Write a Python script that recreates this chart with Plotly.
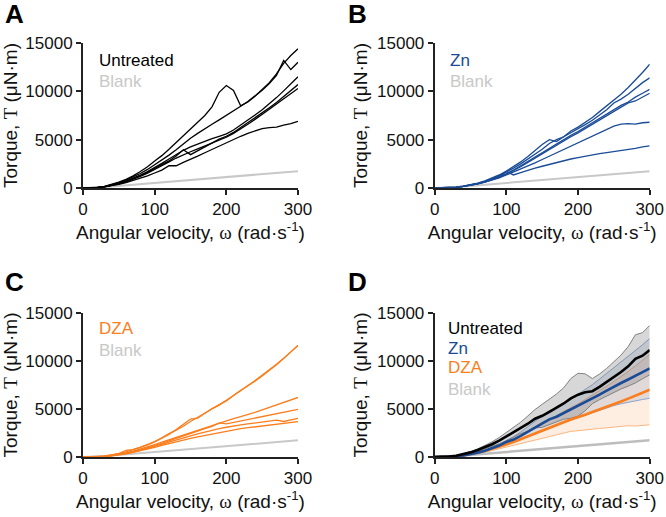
import numpy as np
import plotly.graph_objects as go

# ---------------- data (torque in µN·m vs angular velocity in rad/s) ----------------
OMEGA = [0, 10, 20, 30, 40, 50, 60, 70, 80, 90, 100, 110, 120, 130, 140, 150,
         160, 170, 180, 190, 200, 210, 220, 230, 240, 250, 260, 270, 280, 290, 300]

BLANK = [0, 20, 60, 110, 160, 220, 270, 330, 390, 450, 510, 570, 630, 690, 750, 810,
         870, 930, 990, 1050, 1110, 1170, 1230, 1290, 1350, 1420, 1480, 1540, 1600, 1670, 1740]

UNTREATED_RUNS = [
    [0, 10, 60, 170, 350, 600, 900, 1250, 1700, 2200, 2800, 3350, 4000, 4700, 5450, 6200,
     6850, 7500, 8400, 9900, 10600, 10100, 8500, 8900, 9500, 10200, 10900, 11800, 12900, 13700, 14400],
    [0, 10, 50, 150, 320, 550, 820, 1130, 1500, 1920, 2400, 2900, 3400, 3950, 4550, 5150,
     5650, 6150, 6600, 7050, 7500, 7950, 8450, 8950, 9500, 10100, 10800, 11650, 13200, 12250, 13000],
    [0, 10, 50, 140, 290, 480, 720, 1000, 1330, 1700, 2100, 2550, 3000, 3450, 3900, 4250,
     4550, 4850, 5100, 5350, 5600, 6000, 6500, 7000, 7550, 8100, 8700, 9350, 10050, 10800, 11500],
    [0, 10, 45, 130, 270, 460, 690, 960, 1270, 1620, 2000, 2400, 2800, 3300, 3950, 3450,
     3850, 4300, 4700, 5050, 5350, 5750, 6250, 6750, 7250, 7750, 8300, 8850, 9450, 10100, 10700],
    [0, 10, 40, 120, 250, 420, 640, 900, 1200, 1530, 1900, 2300, 2700, 3100, 3450, 3750,
     4050, 4350, 4650, 4950, 5250, 5650, 6100, 6600, 7100, 7600, 8150, 8700, 9250, 9800, 10300],
    [0, 10, 40, 110, 230, 380, 560, 770, 1000, 1250, 1550, 1850, 2300, 2300, 2650, 2950,
     3300, 3650, 4000, 4350, 4650, 5000, 5350, 5650, 5900, 6150, 6250, 6300, 6500, 6650, 6900],
]

ZN_RUNS = [
    [0, 5, 30, 90, 190, 330, 510, 730, 1000, 1350, 1750, 2200, 2700, 3250, 3900, 4500,
     5000, 4800, 5300, 5900, 6300, 6800, 7300, 7900, 8500, 9100, 9700, 10400, 11150, 11950, 12800],
    [0, 5, 30, 85, 180, 310, 480, 690, 950, 1300, 1650, 2050, 2500, 3000, 3500, 4000,
     4600, 5000, 5300, 5700, 6100, 6550, 7000, 7550, 8100, 8800, 9200, 9700, 10300, 10900, 11400],
    [0, 5, 25, 80, 170, 290, 450, 650, 900, 1200, 1500, 1850, 2300, 2750, 3200, 3700,
     4150, 4600, 5050, 5450, 5850, 6300, 6750, 7200, 7650, 8100, 8550, 8900, 9400, 9800, 10200],
    [0, 5, 25, 75, 160, 280, 430, 620, 850, 1100, 1450, 1800, 2200, 2650, 3100, 3550,
     4000, 4450, 4900, 5300, 5700, 6150, 6600, 7050, 7500, 7950, 8350, 8800, 9000, 9400, 9800],
    [0, 5, 25, 75, 160, 280, 430, 610, 820, 1050, 1350, 1650, 1950, 2250, 2600, 2950,
     3300, 3650, 4000, 4350, 4700, 5050, 5400, 5750, 6100, 6400, 6600, 6650, 6600, 6750, 6800],
    [0, 5, 25, 75, 160, 280, 440, 630, 860, 1150, 1700, 1350, 1600, 1850, 2050, 2250,
     2450, 2650, 2850, 3000, 3150, 3300, 3400, 3550, 3650, 3750, 3850, 4000, 4100, 4250, 4350],
]

DZA_RUNS = [
    [0, 5, 30, 100, 210, 360, 700, 760, 1000, 1280, 1600, 1990, 2450, 2800, 3200, 3700,
     4150, 4550, 5000, 5400, 5900, 6350, 6900, 7450, 7900, 8450, 9000, 9600, 10250, 10950, 11650],
    [0, 5, 30, 95, 200, 350, 530, 750, 990, 1260, 1580, 1950, 2350, 2850, 3400, 3950,
     4050, 4550, 5050, 5450, 5850, 6400, 6950, 7400, 7950, 8500, 9050, 9650, 10300, 11000, 11600],
    [0, 5, 25, 80, 170, 290, 440, 620, 830, 1050, 1300, 1550, 1800, 2050, 2300, 2550,
     2800, 3050, 3300, 3550, 3800, 4000, 4200, 4400, 4650, 4900, 5150, 5400, 5650, 5900, 6200],
    [0, 5, 25, 70, 150, 260, 400, 560, 750, 950, 1180, 1420, 1680, 1950, 2200, 2450,
     2700, 2950, 3200, 3550, 3450, 3600, 3750, 3900, 4050, 4200, 4400, 4550, 4700, 4850, 4960],
    [0, 5, 20, 65, 140, 240, 370, 520, 700, 890, 1100, 1320, 1550, 1780, 2000, 2200,
     2400, 2600, 2800, 2950, 3100, 3250, 3350, 3450, 3550, 3650, 3750, 3850, 3700, 3900, 4030],
    [0, 5, 20, 60, 130, 220, 340, 480, 640, 820, 1000, 1200, 1400, 1600, 1800, 1950,
     2100, 2250, 2400, 2550, 2700, 2850, 2950, 3050, 3150, 3250, 3350, 3450, 3550, 3600, 3680],
]

X_TICKS = [0, 100, 200, 300]
Y_TICKS = [0, 5000, 10000, 15000]

# ---------------- styling ----------------
W, H = 666, 517
FONT = "Liberation Sans, Arial, Helvetica, sans-serif"
SERIF = "Liberation Serif, DejaVu Serif, serif"
BLACK = "#000000"
BLUE = "#1a4b96"
ORANGE = "#fb7d1c"
GREY = "#c8c8c8"


def px(x):
    return x / W


def py(y):
    return 1 - y / H


XA = [px(83), px(298)]
XB = [px(434.7), px(649.7)]
YTOP = [py(188), py(43)]
YBOT = [py(457), py(313)]

fig = go.Figure()


def add_line(ax, y, color, width, **kw):
    fig.add_trace(go.Scatter(x=OMEGA, y=y, mode="lines", xaxis="x" + ax, yaxis="y" + ax,
                             line=dict(color=color, width=width), showlegend=False,
                             hoverinfo="skip", **kw))


# Panels A, B, C
for ax, runs, col in [("", UNTREATED_RUNS, BLACK), ("2", ZN_RUNS, BLUE), ("3", DZA_RUNS, ORANGE)]:
    add_line(ax, BLANK, GREY, 2)
    for r in runs:
        add_line(ax, r, col, 1.3)

# Panel D: mean ± SD
groups = [
    (DZA_RUNS, ORANGE, "#fbb47e", "rgba(251,125,28,0.13)"),
    (ZN_RUNS, BLUE, "#8aa3cf", "rgba(26,75,150,0.13)"),
    (UNTREATED_RUNS, BLACK, "#808080", "rgba(110,110,110,0.28)"),
]
stats = []
for runs, col, bcol, fcol in groups:
    arr = np.array(runs, dtype=float)
    m = arr.mean(axis=0)
    s = arr.std(axis=0, ddof=1)
    stats.append((m, col))
    add_line("4", m - s, bcol, 1)
    add_line("4", m + s, bcol, 1, fill="tonexty", fillcolor=fcol)

add_line("4", BLANK, "#bdbdbd", 2.5)
for m, col in stats:
    add_line("4", m, col, 2.6)

# ---------------- axes ----------------
xtitle = ("Angular velocity, <span style='font-family:" + SERIF + "'>ω</span> "
          "(rad·s<sup>-1</sup>)")
ytitle = "Torque, <span style='font-family:" + SERIF + "'>Τ</span> (μN·m)"

axis_common = dict(showline=True, linecolor="#222222", linewidth=2, ticks="outside",
                   ticklen=5, tickwidth=2, tickcolor="#222222", showgrid=False,
                   zeroline=False, tickfont=dict(family=FONT, size=17, color="#111111"),
                   fixedrange=True, automargin=False)

layout = dict(width=W, height=H, margin=dict(l=0, r=0, t=0, b=0, autoexpand=False),
              paper_bgcolor="white", plot_bgcolor="white", showlegend=False,
              font=dict(family=FONT, color="#111111"))

for i, (xd, yd) in enumerate([(XA, YTOP), (XB, YTOP), (XA, YBOT), (XB, YBOT)]):
    suf = "" if i == 0 else str(i + 1)
    anchor = "y" + suf
    layout["xaxis" + suf] = dict(axis_common, domain=xd, anchor=anchor, range=[0, 300],
                                 tickvals=X_TICKS,
                                 title=dict(text=xtitle, font=dict(family=FONT, size=19), standoff=6))
    layout["yaxis" + suf] = dict(axis_common, domain=yd, anchor="x" + suf, range=[0, 15000],
                                 tickvals=Y_TICKS, tickformat="d",
                                 title=dict(text=ytitle, font=dict(family=FONT, size=19), standoff=4))

fig.update_layout(**layout)

# panel letters
for letter, x, y in [("A", 3, 14), ("B", 346, 14), ("C", 3, 282), ("D", 346, 282)]:
    fig.add_annotation(text="<b>" + letter + "</b>", x=px(x), y=py(y), xref="paper", yref="paper",
                       xanchor="left", yanchor="middle", showarrow=False,
                       font=dict(family=FONT, size=26, color="#000000"))

# in-plot legends
legend_items = [
    ("Untreated", BLACK, 97, 60), ("Blank", GREY, 97, 81),
    ("Zn", BLUE, 448, 60), ("Blank", GREY, 448, 81),
    ("DZA", ORANGE, 97, 328), ("Blank", GREY, 97, 350),
    ("Untreated", BLACK, 446, 328), ("Zn", BLUE, 446, 348),
    ("DZA", ORANGE, 446, 367), ("Blank", GREY, 446, 389),
]
for txt, col, x, y in legend_items:
    fig.add_annotation(text=txt, x=px(x), y=py(y), xref="paper", yref="paper",
                       xanchor="left", yanchor="middle", showarrow=False,
                       font=dict(family=FONT, size=17, color=col))

fig.write_html("out.html", config={"displayModeBar": False, "staticPlot": True},
               post_script="document.body.style.margin='0';")
